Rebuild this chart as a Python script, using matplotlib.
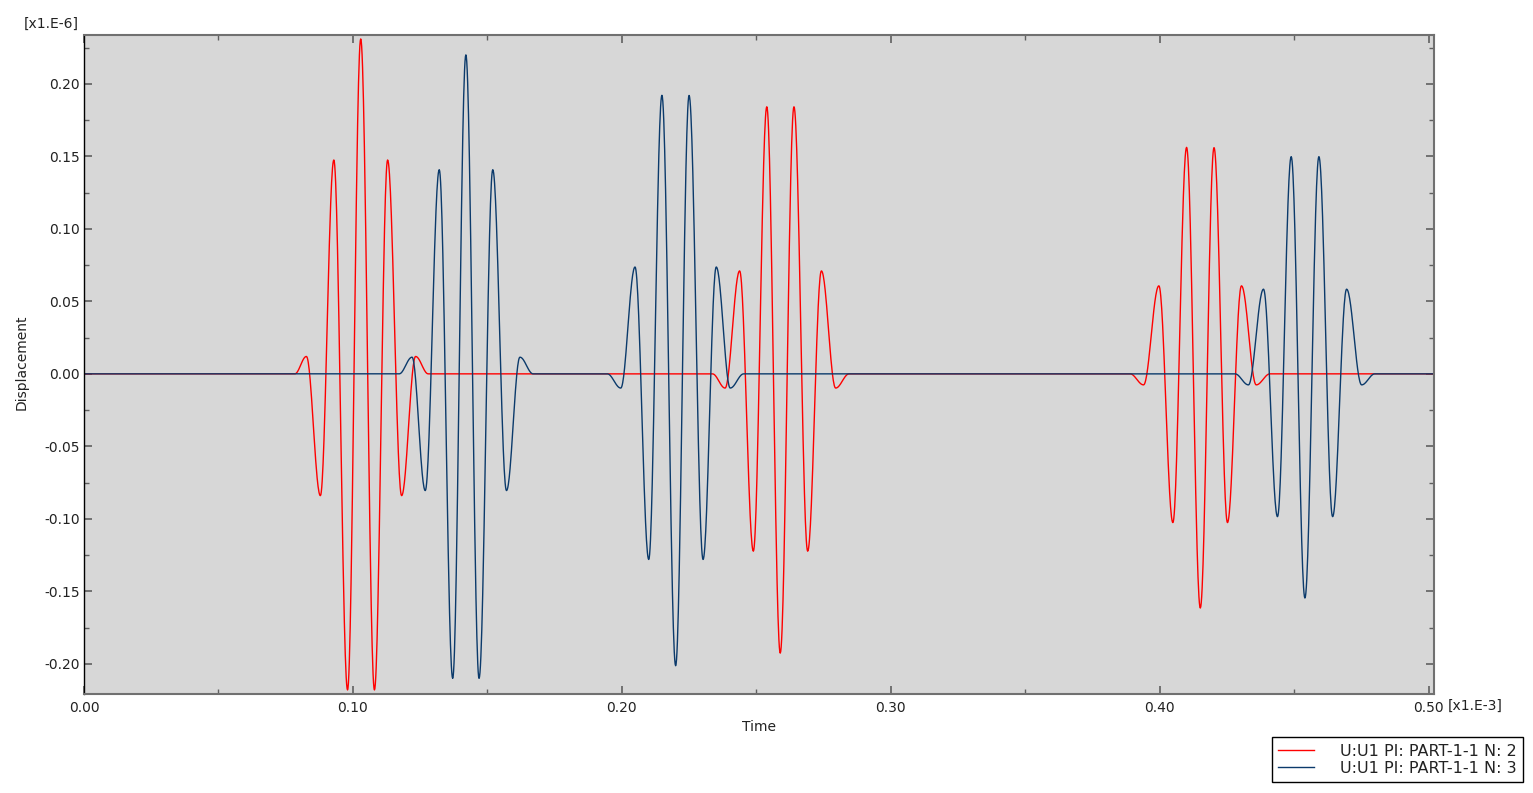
import numpy as np
import matplotlib.pyplot as plt
from matplotlib.ticker import MultipleLocator, FormatStrFormatter

# extrema of each wave packet (time in 1e-3, displacement in 1e-6)
red_t1 = [0.0784, 0.0827, 0.0879, 0.0929, 0.0980, 0.1029, 0.1080, 0.1129, 0.1181, 0.1233, 0.1280]
red_v1 = [0.0, 0.012, -0.084, 0.1475, -0.218, 0.231, -0.218, 0.1475, -0.084, 0.012, 0.0]
red_t2 = [0.2337, 0.2384, 0.2438, 0.2489, 0.2539, 0.2589, 0.2640, 0.2691, 0.2742, 0.2795, 0.2845]
red_v2 = [0.0, -0.0098, 0.071, -0.1223, 0.1842, -0.1926, 0.1842, -0.1223, 0.071, -0.0098, 0.0]
red_t3 = [0.3890, 0.3940, 0.3997, 0.4049, 0.4100, 0.4151, 0.4202, 0.4252, 0.4304, 0.4359, 0.4410]
red_v3 = [0.0, -0.0076, 0.0607, -0.1026, 0.1562, -0.1615, 0.1560, -0.1026, 0.0607, -0.0076, 0.0]

blue_t1 = [0.1172, 0.1220, 0.1269, 0.1321, 0.1371, 0.1420, 0.1469, 0.1520, 0.1571, 0.1621, 0.1670]
blue_v1 = [0.0, 0.0115, -0.0805, 0.1408, -0.210, 0.220, -0.210, 0.1408, -0.0805, 0.0115, 0.0]
blue_t2 = [0.1946, 0.1996, 0.2049, 0.2100, 0.2149, 0.2200, 0.2250, 0.2302, 0.2351, 0.2403, 0.2453]
blue_v2 = [0.0, -0.0098, 0.0737, -0.128, 0.1921, -0.2013, 0.1920, -0.128, 0.0737, -0.0098, 0.0]
blue_t3 = [0.4280, 0.4330, 0.4386, 0.4438, 0.4489, 0.4540, 0.4592, 0.4643, 0.4695, 0.4751, 0.4800]
blue_v3 = [0.0, -0.0076, 0.0584, -0.0985, 0.1498, -0.1546, 0.1498, -0.0985, 0.0584, -0.0076, 0.0]

t_start, t_end = 0.0, 0.502
labels = ['U:U1 PI: PART-1-1 N: 2', 'U:U1 PI: PART-1-1 N: 3']


def build(packets):
    # join the packets with the flat zero baseline
    tk, vk = [t_start], [0.0]
    for t, v in packets:
        tk += t
        vk += v
    tk.append(t_end)
    vk.append(0.0)
    return tk, vk


def smooth(tk, vk, n=30):
    # half-cosine segment between consecutive extrema, only for drawing
    xs, ys = [], []
    for i in range(len(tk) - 1):
        s = np.linspace(0, 1, n, endpoint=False)
        xs.append(tk[i] + (tk[i + 1] - tk[i]) * s)
        ys.append(vk[i] + (vk[i + 1] - vk[i]) * (1 - np.cos(np.pi * s)) / 2)
    xs.append([tk[-1]])
    ys.append([vk[-1]])
    return np.concatenate(xs), np.concatenate(ys)


red_x, red_y = smooth(*build([(red_t1, red_v1), (red_t2, red_v2), (red_t3, red_v3)]))
blue_x, blue_y = smooth(*build([(blue_t1, blue_v1), (blue_t2, blue_v2), (blue_t3, blue_v3)]))

plt.rcParams['font.family'] = ['DejaVu Sans']
fig = plt.figure(figsize=(15.33, 7.93), dpi=100)
ax = fig.add_axes([84 / 1533, 1 - 694 / 793, 1350 / 1533, 659 / 793])
ax.set_facecolor('#d7d7d7')

l1, = ax.plot(red_x, red_y, color='#ff0000', lw=1.0)
l2, = ax.plot(blue_x, blue_y, color='#0b3a6b', lw=1.0)

ax.set_xlim(0.0, 0.502)
ax.set_ylim(-0.2208, 0.2337)
ax.xaxis.set_major_locator(MultipleLocator(0.1))
ax.xaxis.set_minor_locator(MultipleLocator(0.05))
ax.yaxis.set_major_locator(MultipleLocator(0.05))
ax.yaxis.set_minor_locator(MultipleLocator(0.025))
ax.xaxis.set_major_formatter(FormatStrFormatter('%.2f'))
ax.yaxis.set_major_formatter(FormatStrFormatter('%.2f'))
ax.tick_params(which='both', direction='in', top=True, right=True, color='#606060',
               labelsize=10, labelcolor='#222222')
ax.tick_params(which='major', length=6, width=1.2)
ax.tick_params(which='minor', length=3.5, width=1.0)
ax.tick_params(axis='x', pad=5)
ax.tick_params(axis='y', pad=3)

for side in ['top', 'right', 'bottom']:
    ax.spines[side].set_color('#707070')
    ax.spines[side].set_linewidth(1.5)
ax.spines['left'].set_color('black')
ax.spines['left'].set_linewidth(1.0)

fig.text(759 / 1533, 1 - 727 / 793, 'Time', ha='center', va='center', fontsize=10, color='#222222')
fig.text(22 / 1533, 1 - 362 / 793, 'Displacement', ha='center', va='center', rotation=90,
         fontsize=10, color='#222222')
fig.text(79 / 1533, 1 - 24 / 793, '[x1.E-6]', ha='right', va='center', fontsize=10, color='#222222')
fig.text(1448 / 1533, 1 - 706 / 793, '[x1.E-3]', ha='left', va='center', fontsize=10, color='#222222')

leg = fig.legend([l1, l2], labels, loc='lower right', bbox_to_anchor=(1523 / 1533, 11 / 793),
                 fontsize=11.5, frameon=True, fancybox=False, edgecolor='black', framealpha=1,
                 borderpad=0.4, handlelength=2.25, handletextpad=1.6, labelspacing=0.12,
                 borderaxespad=0)
leg.get_frame().set_linewidth(1.0)
for txt in leg.get_texts():
    txt.set_color('#222222')

fig.savefig('out.png', dpi=100)
